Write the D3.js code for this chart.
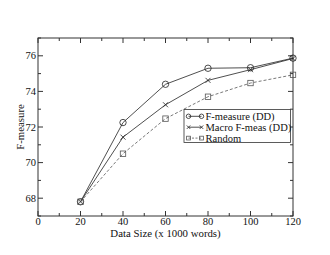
<!DOCTYPE html>
<html>
<head>
<meta charset="utf-8">
<script src="https://cdn.jsdelivr.net/npm/d3@7"></script>
<style>
  body { margin: 0; background: #fff; }
  text { font-family: "Liberation Serif", "Times New Roman", serif; }
</style>
</head>
<body>
<svg id="chart"></svg>
<script>
const dataSizes = [20, 40, 60, 80, 100, 120];
const fMeasure = [67.8, 72.25, 74.4, 75.3, 75.33, 75.87];
const macroF = [67.8, 71.43, 73.25, 74.62, 75.22, 75.85];
const randomF = [67.8, 70.5, 72.47, 73.7, 74.47, 74.93];
const seriesNames = ['F-measure (DD)', 'Macro F-meas (DD)', 'Random'];
const xTicks = [0, 20, 40, 60, 80, 100, 120];
const yTicks = [68, 70, 72, 74, 76];

const width = 330, height = 255;
const margin = { top: 38, right: 37, bottom: 39, left: 38 };

const svg = d3.select('#chart').attr('width', width).attr('height', height);

const x = d3.scaleLinear().domain([0, 120]).range([margin.left, width - margin.right]);
const y = d3.scaleLinear().domain([67, 77]).range([height - margin.bottom, margin.top]);

const axisColor = '#333';
const textColor = '#111';
const g = svg.append('g');

// frame
g.append('rect')
  .attr('x', x(0)).attr('y', y(77))
  .attr('width', x(120) - x(0)).attr('height', y(67) - y(77))
  .attr('fill', 'none').attr('stroke', axisColor).attr('stroke-width', 1);

// ticks, pointing inward on all four sides
const xMinor = d3.range(0, 121, 10);
const yMinor = d3.range(67, 78, 1);
const tickLen = major => major ? 5 : 3;

xMinor.forEach(v => {
  const L = tickLen(v % 20 === 0);
  g.append('line').attr('x1', x(v)).attr('x2', x(v))
    .attr('y1', y(67)).attr('y2', y(67) - L).attr('stroke', axisColor);
  g.append('line').attr('x1', x(v)).attr('x2', x(v))
    .attr('y1', y(77)).attr('y2', y(77) + L).attr('stroke', axisColor);
});
yMinor.forEach(v => {
  const L = tickLen(v % 2 === 0);
  g.append('line').attr('y1', y(v)).attr('y2', y(v))
    .attr('x1', x(0)).attr('x2', x(0) + L).attr('stroke', axisColor);
  g.append('line').attr('y1', y(v)).attr('y2', y(v))
    .attr('x1', x(120)).attr('x2', x(120) - L).attr('stroke', axisColor);
});

// tick labels
g.selectAll('.xl').data(xTicks).enter().append('text')
  .attr('x', d => x(d)).attr('y', 224.8)
  .attr('text-anchor', 'middle').attr('font-size', 10.5).attr('fill', textColor)
  .text(d => d);
g.selectAll('.yl').data(yTicks).enter().append('text')
  .attr('x', 36).attr('y', d => y(d) + 3.5)
  .attr('text-anchor', 'end').attr('font-size', 10.5).attr('fill', textColor)
  .text(d => d);

// axis titles
svg.append('text')
  .attr('x', (x(0) + x(120)) / 2).attr('y', 236.8)
  .attr('text-anchor', 'middle').attr('font-size', 10.8).attr('fill', textColor)
  .text('Data Size (x 1000 words)');
svg.append('text')
  .attr('transform', `translate(23.5,${(y(67) + y(77)) / 2}) rotate(-90)`)
  .attr('text-anchor', 'middle').attr('font-size', 10.8).attr('fill', textColor)
  .text('F-measure');

const line = d3.line().x(d => x(d[0])).y(d => y(d[1]));
const series = [
  { values: fMeasure, marker: 'circle', dash: null, color: '#222' },
  { values: macroF, marker: 'cross', dash: null, color: '#222' },
  { values: randomF, marker: 'square', dash: '3,2', color: '#555' }
];

function drawMarker(sel, type, cx, cy, color, k) {
  if (type === 'circle') {
    sel.append('circle').attr('cx', cx).attr('cy', cy).attr('r', 3.2 * k)
      .attr('fill', 'none').attr('stroke', color).attr('stroke-width', 0.8);
  } else if (type === 'cross') {
    const s = 2.5 * k;
    sel.append('path')
      .attr('d', `M${cx - s},${cy - s}L${cx + s},${cy + s}M${cx - s},${cy + s}L${cx + s},${cy - s}`)
      .attr('stroke', color).attr('stroke-width', 0.8);
  } else {
    const s = 2.7 * k;
    sel.append('rect').attr('x', cx - s).attr('y', cy - s)
      .attr('width', 2 * s).attr('height', 2 * s)
      .attr('fill', 'none').attr('stroke', color).attr('stroke-width', 0.8);
  }
}

series.forEach(s => {
  const pts = dataSizes.map((d, i) => [d, s.values[i]]);
  g.append('path').datum(pts).attr('d', line)
    .attr('fill', 'none').attr('stroke', s.color).attr('stroke-width', 0.8)
    .attr('stroke-dasharray', s.dash);
  pts.forEach(p => drawMarker(g, s.marker, x(p[0]), y(p[1]), s.color, 1));
});

// legend
const lg = svg.append('g');
lg.append('rect').attr('x', 184).attr('y', 109.5).attr('width', 106.5).attr('height', 33)
  .attr('fill', '#fff').attr('stroke', axisColor).attr('stroke-width', 0.8);
seriesNames.forEach((name, i) => {
  const ly = 116.3 + i * 10.9;
  const s = series[i];
  lg.append('line').attr('x1', 188.5).attr('x2', 201.5).attr('y1', ly).attr('y2', ly)
    .attr('stroke', s.color).attr('stroke-width', 0.8).attr('stroke-dasharray', s.dash ? '2,1.5' : null);
  drawMarker(lg, s.marker, 188.5, ly, s.color, 0.7);
  drawMarker(lg, s.marker, 201.5, ly, s.color, 0.7);
  lg.append('text').attr('x', 205.5).attr('y', ly + 3.6)
    .attr('font-size', 10.5).attr('fill', textColor).text(name);
});
</script>
</body>
</html>
